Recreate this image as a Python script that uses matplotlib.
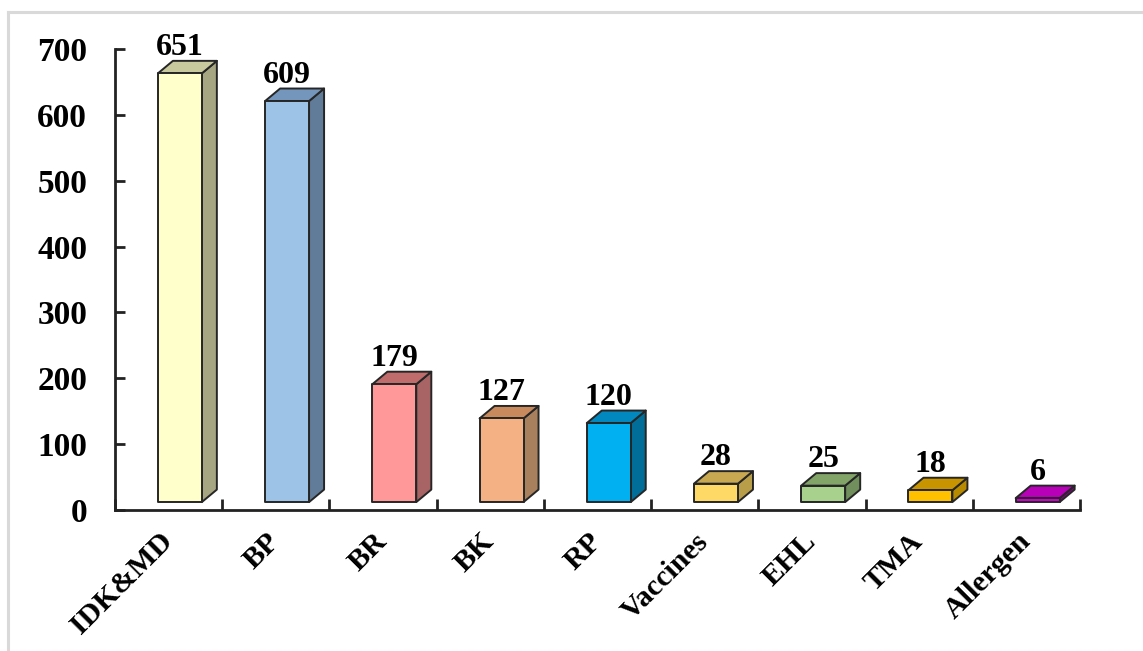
import matplotlib
matplotlib.use("Agg")
import matplotlib.pyplot as plt
from matplotlib.patches import Polygon
from matplotlib.lines import Line2D

categories = ["IDK&MD", "BP", "BR", "BK", "RP", "Vaccines", "EHL", "TMA", "Allergen"]
values = [651, 609, 179, 127, 120, 28, 25, 18, 6]
front_colors = ["#FFFFCC", "#9DC3E6", "#FF9999", "#F4B183", "#00B0F0",
                "#FFD966", "#A9D18E", "#FFC000", "#CC00CC"]
side_colors = ["#A6A682", "#617C99", "#A86464", "#A8805E", "#006E98",
               "#B89E48", "#708F5C", "#B88A00", "#8A008A"]
top_colors = ["#C9C99E", "#7496BC", "#C06C6C", "#C88A5C", "#0088BF",
              "#C8A850", "#82A468", "#C89400", "#B800B8"]
y_ticks = [0, 100, 200, 300, 400, 500, 600, 700]

W, H = 1143, 651
fig = plt.figure(figsize=(W / 100, H / 100), dpi=100)
fig.patch.set_facecolor("white")

# figure frame (light grey)
fig.add_artist(Line2D([8 / W, 8 / W], [0, 1 - 12 / H], transform=fig.transFigure,
                      color="#D9D9D9", lw=2.2))
fig.add_artist(Line2D([8 / W, 1], [1 - 12 / H, 1 - 12 / H], transform=fig.transFigure,
                      color="#D9D9D9", lw=2.2))

left, right, bottom, top = 115 / W, 1080 / W, 141 / H, 602 / H
ax = fig.add_axes([left, bottom, right - left, top - bottom])
ax.set_xlim(-0.5, len(categories) - 0.5)
ax.set_ylim(0, 700)

font = dict(family="Liberation Serif", fontweight="bold")

base = 12      # bars sit slightly above the floor line
f0, f1 = -0.10, 0.31   # front face extents relative to slot centre
dx, dy = 0.14, 19       # depth offset
edge = "#262626"
elw = 1.4

for i, (cat, v) in enumerate(zip(categories, values)):
    x0, x1 = i + f0, i + f1
    y0, y1 = base, base + v
    front = Polygon([(x0, y0), (x1, y0), (x1, y1), (x0, y1)], closed=True,
                    facecolor=front_colors[i], edgecolor=edge, lw=elw,
                    joinstyle="round", clip_on=False, zorder=3)
    side = Polygon([(x1, y0), (x1 + dx, y0 + dy), (x1 + dx, y1 + dy), (x1, y1)],
                   closed=True, facecolor=side_colors[i], edgecolor=edge, lw=elw,
                   joinstyle="round", clip_on=False, zorder=3)
    topf = Polygon([(x0, y1), (x1, y1), (x1 + dx, y1 + dy), (x0 + dx, y1 + dy)],
                   closed=True, facecolor=top_colors[i], edgecolor=edge, lw=elw,
                   joinstyle="round", clip_on=False, zorder=3)
    for p in (side, topf, front):
        ax.add_patch(p)
    ax.text((x0 + x1) / 2, y1 + dy + 9, str(v), ha="center", va="baseline",
            fontsize=23, color="black", clip_on=False, zorder=5, **font)
    ax.text(i - 0.09, -27, cat, rotation=45, rotation_mode="anchor",
            ha="right", va="top", fontsize=21.5, color="black", clip_on=False, **font)

for s in ("top", "right"):
    ax.spines[s].set_visible(False)
for s in ("left", "bottom"):
    ax.spines[s].set_color("#222222")
    ax.spines[s].set_linewidth(2.0)
    ax.spines[s].set_capstyle("projecting")

ax.set_yticks(y_ticks)
ax.set_yticklabels([str(t) for t in y_ticks])
for lab in ax.get_yticklabels():
    lab.set_fontfamily("Liberation Serif")
    lab.set_fontweight("bold")
    lab.set_fontsize(24)
ax.tick_params(axis="y", direction="in", length=7, width=2.0, color="#222222", pad=20)

ax.set_xticks([k - 0.5 for k in range(len(categories) + 1)])
ax.set_xticklabels([])
ax.tick_params(axis="x", direction="in", length=8, width=2.0, color="#222222")

fig.savefig("out.png", dpi=100, facecolor="white")
